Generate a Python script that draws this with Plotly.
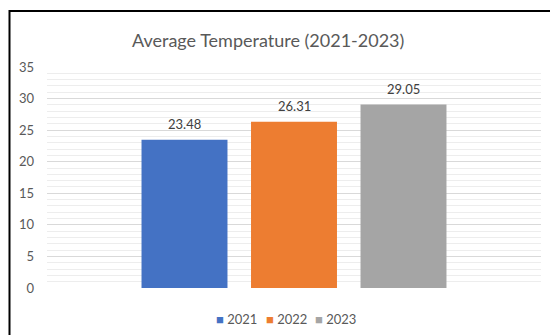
import plotly.graph_objects as go

# Yearly averages
years = ["2021", "2022", "2023"]
avg_temp = [23.48, 26.31, 29.05]
colors = ["#4472C4", "#ED7D31", "#A5A5A5"]
y_ticks = [0, 5, 10, 15, 20, 25, 30, 35]

FONT = "Lato"
TEXT = "#595959"

W, H = 550, 335
L, R, T, B = 47, 9, 67, 47
PW, PH = W - L - R, H - T - B


def px_x(px):
    return (px - L) / PW


def px_y(py):
    return (H - B - py) / PH


fig = go.Figure()
for yr, val, col in zip(years, avg_temp, colors):
    fig.add_trace(go.Bar(
        x=["Average"], y=[val], name=yr,
        marker=dict(color=col, line=dict(width=0)),
        showlegend=False,
    ))

# value labels above each bar
for i, (yr, val) in enumerate(zip(years, avg_temp)):
    fig.add_annotation(
        x="Average", y=val, xref="x", yref="y",
        text=f"{val:.2f}", showarrow=False,
        xshift=(i - 1) * 109.5, yshift=6, yanchor="bottom",
        font=dict(family=FONT, size=13, color="#404040"),
    )

# legend row
legend_x = [214, 264, 313]
for yr, col, lx in zip(years, colors, legend_x):
    fig.add_annotation(
        x=px_x(lx), y=px_y(319), xref="paper", yref="paper",
        text=f"<span style='color:{col}'>■</span> {yr}",
        showarrow=False, xanchor="left", yanchor="middle",
        font=dict(family=FONT, size=13, color=TEXT),
    )

# chart title
fig.add_annotation(
    x=px_x(267.5), y=px_y(40), xref="paper", yref="paper",
    text="Average Temperature (2021-2023)", showarrow=False,
    xanchor="center", yanchor="middle",
    font=dict(family=FONT, size=18, color=TEXT),
)

# frame around the chart
fig.add_shape(
    type="path", xref="paper", yref="paper",
    path=f"M {px_x(9.5)} {px_y(340)} L {px_x(9.5)} {px_y(11)} L {px_x(552)} {px_y(11)}",
    line=dict(color="#000000", width=2),
)

fig.update_layout(
    width=W, height=H,
    margin=dict(l=L, r=R, t=T, b=B),
    paper_bgcolor="white", plot_bgcolor="white",
    barmode="group", bargap=0.335, bargroupgap=0.215,
    xaxis=dict(showticklabels=False, showgrid=False, zeroline=False,
               showline=False, ticks=""),
    yaxis=dict(range=[0, 35], tickvals=y_ticks, showgrid=True,
               gridcolor="#D9D9D9", gridwidth=1, zeroline=False,
               showline=False, ticks="",
               tickfont=dict(family=FONT, size=13, color=TEXT),
               ticklabelstandoff=12,
               minor=dict(dtick=1, showgrid=True, gridcolor="#EDEDED",
                          gridwidth=1)),
    showlegend=False,
)

fig.write_html("out.html")
